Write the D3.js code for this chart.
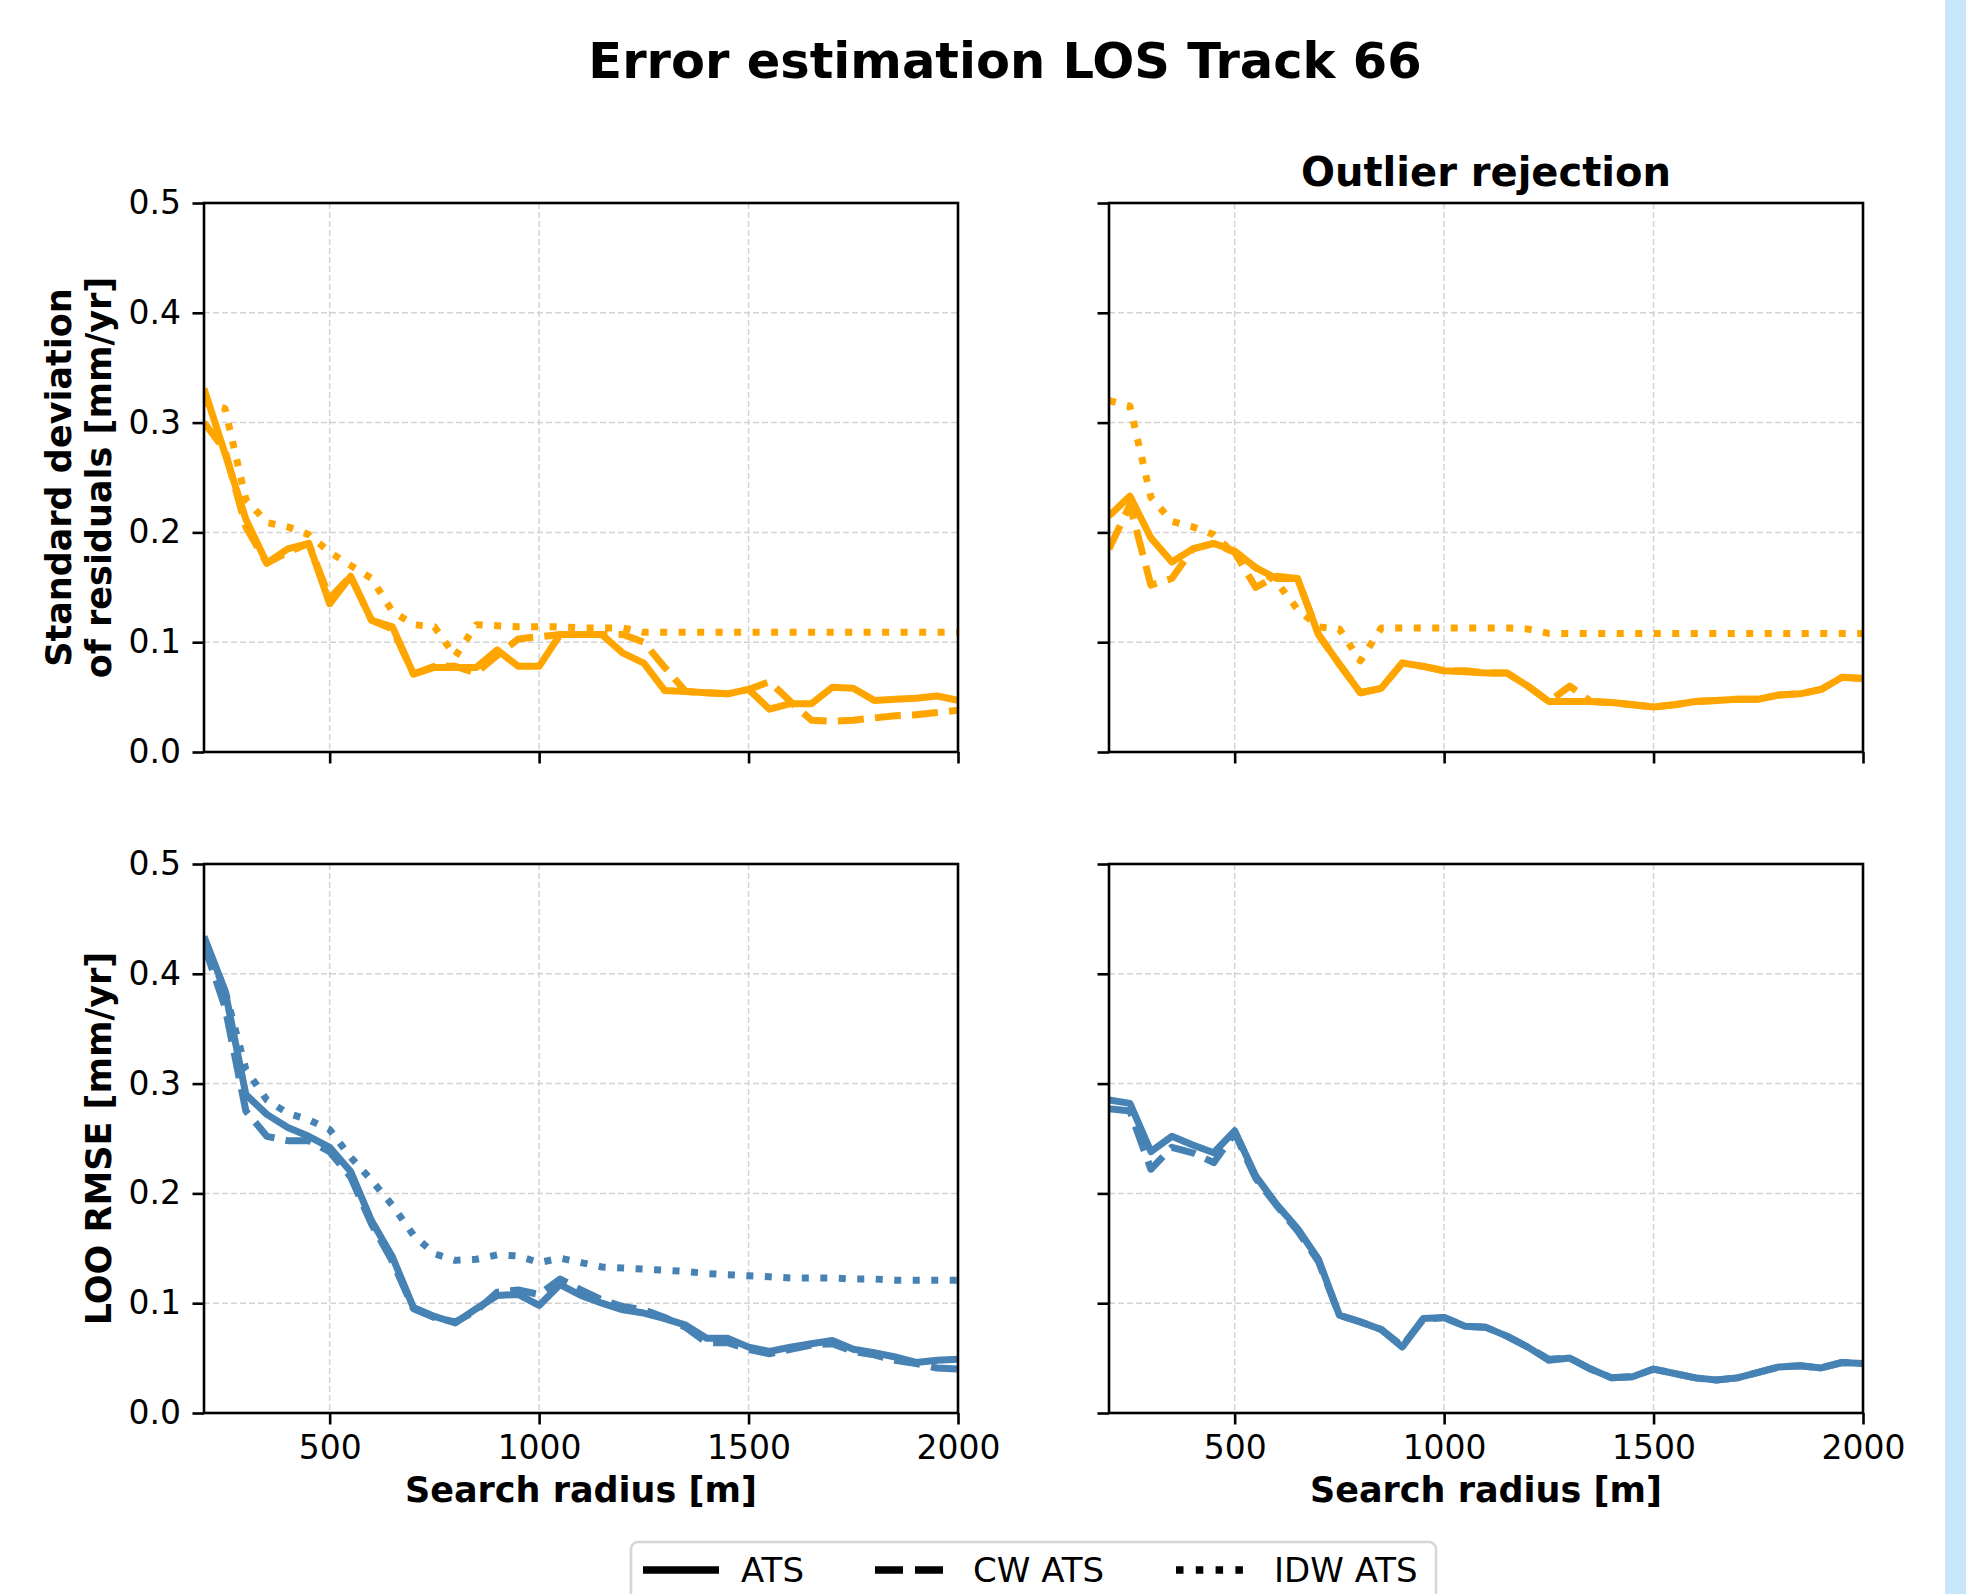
<!DOCTYPE html>
<html>
<head>
<meta charset="utf-8">
<script src="https://cdn.jsdelivr.net/npm/d3@7"></script>
<style>
  html, body { margin: 0; padding: 0; background: #fff; }
  text { font-family: "DejaVu Sans", sans-serif; fill: #000; }
</style>
</head>
<body>
<div id="chart"></div>
<script>
// search radius [m]
var radius = [200, 250, 300, 350, 400, 450, 500, 550, 600, 650, 700, 750, 800, 850, 900, 950, 1000,
  1050, 1100, 1150, 1200, 1250, 1300, 1350, 1400, 1450, 1500, 1550, 1600, 1650, 1700, 1750, 1800,
  1850, 1900, 1950, 2000];

// std of residuals, no rejection
var atsStd = [0.331, 0.272, 0.212, 0.172, 0.185, 0.190, 0.135, 0.160, 0.120, 0.114, 0.071, 0.077, 0.077,
  0.077, 0.093, 0.078, 0.078, 0.107, 0.107, 0.107, 0.090, 0.081, 0.056, 0.055, 0.054, 0.053, 0.057,
  0.039, 0.044, 0.044, 0.059, 0.058, 0.047, 0.048, 0.049, 0.051, 0.047];
var cwStd = [0.300, 0.275, 0.205, 0.172, 0.182, 0.190, 0.140, 0.160, 0.120, 0.112, 0.071, 0.078, 0.078,
  0.072, 0.088, 0.103, 0.105, 0.107, 0.107, 0.107, 0.107, 0.100, 0.077, 0.055, 0.054, 0.053, 0.057,
  0.064, 0.046, 0.029, 0.028, 0.029, 0.031, 0.033, 0.034, 0.036, 0.038];
var idwStd = [0.318, 0.313, 0.230, 0.209, 0.205, 0.198, 0.182, 0.170, 0.158, 0.128, 0.116, 0.114, 0.087,
  0.116, 0.115, 0.114, 0.114, 0.114, 0.113, 0.113, 0.113, 0.109, 0.109, 0.109, 0.109, 0.109, 0.109,
  0.109, 0.109, 0.109, 0.109, 0.109, 0.109, 0.109, 0.109, 0.109, 0.109];

// std of residuals, outlier rejection
var atsStdOr = [0.215, 0.233, 0.195, 0.173, 0.185, 0.190, 0.183, 0.168, 0.158, 0.158, 0.107, 0.080, 0.054,
  0.058, 0.081, 0.078, 0.074, 0.073, 0.072, 0.072, 0.060, 0.046, 0.046, 0.046, 0.045, 0.043, 0.041,
  0.043, 0.046, 0.047, 0.048, 0.048, 0.052, 0.053, 0.057, 0.068, 0.067];
var cwStdOr = [0.185, 0.225, 0.152, 0.158, 0.185, 0.190, 0.182, 0.150, 0.160, 0.158, 0.107, 0.080, 0.054,
  0.058, 0.081, 0.078, 0.074, 0.074, 0.072, 0.072, 0.060, 0.046, 0.060, 0.046, 0.045, 0.043, 0.041,
  0.043, 0.046, 0.047, 0.048, 0.048, 0.052, 0.053, 0.057, 0.068, 0.067];
var idwStdOr = [0.320, 0.315, 0.232, 0.210, 0.205, 0.198, 0.180, 0.168, 0.155, 0.130, 0.114, 0.112, 0.083,
  0.113, 0.113, 0.113, 0.113, 0.113, 0.113, 0.113, 0.112, 0.108, 0.108, 0.108, 0.108, 0.108, 0.108,
  0.108, 0.108, 0.108, 0.108, 0.108, 0.108, 0.108, 0.108, 0.108, 0.108];

// LOO RMSE, no rejection
var atsRmse = [0.434, 0.385, 0.290, 0.272, 0.260, 0.252, 0.242, 0.220, 0.175, 0.142, 0.096, 0.088, 0.082,
  0.095, 0.107, 0.108, 0.098, 0.117, 0.107, 0.100, 0.094, 0.091, 0.086, 0.080, 0.068, 0.068, 0.060,
  0.056, 0.060, 0.063, 0.066, 0.058, 0.055, 0.051, 0.046, 0.048, 0.049];
var cwRmse = [0.426, 0.370, 0.275, 0.252, 0.248, 0.248, 0.238, 0.215, 0.172, 0.138, 0.095, 0.087, 0.083,
  0.093, 0.110, 0.112, 0.108, 0.122, 0.112, 0.103, 0.097, 0.094, 0.087, 0.078, 0.064, 0.064, 0.058,
  0.054, 0.058, 0.062, 0.063, 0.056, 0.053, 0.048, 0.045, 0.041, 0.040];
var idwRmse = [0.430, 0.385, 0.313, 0.285, 0.273, 0.267, 0.258, 0.233, 0.212, 0.189, 0.162, 0.145, 0.139,
  0.140, 0.144, 0.143, 0.137, 0.141, 0.137, 0.133, 0.132, 0.131, 0.130, 0.129, 0.127, 0.126, 0.125,
  0.124, 0.123, 0.123, 0.123, 0.122, 0.122, 0.121, 0.121, 0.121, 0.121];

// LOO RMSE, outlier rejection (IDW ATS not visible)
var atsRmseOr = [0.285, 0.282, 0.238, 0.252, 0.244, 0.237, 0.257, 0.216, 0.190, 0.168, 0.140, 0.089, 0.083,
  0.076, 0.060, 0.086, 0.087, 0.079, 0.078, 0.070, 0.060, 0.048, 0.050, 0.040, 0.032, 0.033, 0.040,
  0.036, 0.032, 0.030, 0.032, 0.037, 0.042, 0.043, 0.041, 0.046, 0.045];
var cwRmseOr = [0.277, 0.275, 0.222, 0.242, 0.237, 0.228, 0.255, 0.214, 0.189, 0.166, 0.138, 0.089, 0.083,
  0.076, 0.061, 0.085, 0.087, 0.079, 0.078, 0.070, 0.060, 0.049, 0.050, 0.040, 0.032, 0.033, 0.040,
  0.036, 0.032, 0.030, 0.032, 0.037, 0.042, 0.043, 0.041, 0.046, 0.045];

var xTicks = [500, 1000, 1500, 2000];
var yTicks = [0.0, 0.1, 0.2, 0.3, 0.4, 0.5];
var methods = ['ATS', 'CW ATS', 'IDW ATS'];

// 画布与样式
var opt = {
  width: 1966,
  height: 1594,
  plotW: 754,
  plotH: 549,
  colLeft: [204, 1109],
  rowTop: [203, 864],
  lineW: 7,
  dash: ['none', '26,11.2', '7,11.5'],
  orange: '#ffa500',
  blue: '#4682b4',
  gridC: '#d3d3d3',
  tickFont: 33,
  labelFont: 35
};

var panels = [
  {col: 0, row: 0, color: opt.orange, series: [atsStd, cwStd, idwStd]},
  {col: 1, row: 0, color: opt.orange, series: [atsStdOr, cwStdOr, idwStdOr], title: 'Outlier rejection'},
  {col: 0, row: 1, color: opt.blue, series: [atsRmse, cwRmse, idwRmse]},
  {col: 1, row: 1, color: opt.blue, series: [atsRmseOr, cwRmseOr, null]}
];

var svg = d3.select('#chart').append('svg')
  .attr('width', opt.width)
  .attr('height', opt.height);

svg.append('rect').attr('width', opt.width).attr('height', opt.height).attr('fill', '#fff');
// 右侧浅蓝条
svg.append('rect').attr('x', 1945).attr('y', 0).attr('width', 21).attr('height', opt.height).attr('fill', '#c9e7fc');

// 总标题
svg.append('text').text('Error estimation LOS Track 66')
  .attr('x', 1005).attr('y', 78)
  .attr('text-anchor', 'middle')
  .style('font-size', '49.5px').style('font-weight', 'bold');

var x = d3.scaleLinear().domain([200, 2000]).range([0, opt.plotW]);
var y = d3.scaleLinear().domain([0, 0.5]).range([opt.plotH, 0]);

panels.forEach(function (p, pi) {
  var g = svg.append('g')
    .attr('transform', 'translate(' + opt.colLeft[p.col] + ',' + opt.rowTop[p.row] + ')');

  // 网格
  g.append('g').selectAll('line').data(xTicks).enter().append('line')
    .attr('x1', function (d) { return x(d); }).attr('x2', function (d) { return x(d); })
    .attr('y1', 0).attr('y2', opt.plotH)
    .attr('stroke', opt.gridC).attr('stroke-width', 1.5).attr('stroke-dasharray', '6,3');
  g.append('g').selectAll('line').data(yTicks).enter().append('line')
    .attr('x1', 0).attr('x2', opt.plotW)
    .attr('y1', function (d) { return y(d); }).attr('y2', function (d) { return y(d); })
    .attr('stroke', opt.gridC).attr('stroke-width', 1.5).attr('stroke-dasharray', '6,3');

  // 曲线
  g.append('clipPath').attr('id', 'clip' + pi)
    .append('rect').attr('width', opt.plotW).attr('height', opt.plotH);
  var line = d3.line()
    .x(function (d, i) { return x(radius[i]); })
    .y(function (d) { return y(d); });
  p.series.forEach(function (s, si) {
    if (!s) return;
    g.append('path').datum(s)
      .attr('d', line)
      .attr('clip-path', 'url(#clip' + pi + ')')
      .attr('fill', 'none')
      .attr('stroke', p.color)
      .attr('stroke-width', opt.lineW)
      .attr('stroke-linejoin', 'round')
      .attr('stroke-dasharray', opt.dash[si]);
  });

  // 坐标轴
  var xAxis = d3.axisBottom(x).tickValues(xTicks).tickSize(11.5).tickPadding(11.5);
  var yAxis = d3.axisLeft(y).tickValues(yTicks).tickSize(11.5).tickPadding(11.5);
  if (p.row === 0) xAxis.tickFormat('');
  else xAxis.tickFormat(d3.format('d'));
  if (p.col === 1) yAxis.tickFormat('');
  else yAxis.tickFormat(d3.format('.1f'));

  var gx = g.append('g').attr('transform', 'translate(0,' + opt.plotH + ')').call(xAxis);
  var gy = g.append('g').call(yAxis);
  [gx, gy].forEach(function (a) {
    a.select('.domain').remove();
    a.selectAll('line').attr('stroke', '#000').attr('stroke-width', 2.6);
    a.selectAll('text').attr('fill', '#000')
      .style('font-size', opt.tickFont + 'px').style('font-family', '"DejaVu Sans", sans-serif');
  });

  // 边框
  g.append('rect').attr('width', opt.plotW).attr('height', opt.plotH)
    .attr('fill', 'none').attr('stroke', '#000').attr('stroke-width', 2.6);

  if (p.title) {
    g.append('text').text(p.title)
      .attr('x', opt.plotW / 2).attr('y', -17)
      .attr('text-anchor', 'middle')
      .style('font-size', '40px').style('font-weight', 'bold');
  }
  if (p.row === 1) {
    g.append('text').text('Search radius [m]')
      .attr('x', opt.plotW / 2).attr('y', opt.plotH + 89)
      .attr('text-anchor', 'middle')
      .style('font-size', opt.labelFont + 'px').style('font-weight', 'bold');
  }
});

// 纵轴标题
var yl1 = svg.append('text')
  .attr('transform', 'translate(0,' + (opt.rowTop[0] + opt.plotH / 2) + ') rotate(-90)')
  .attr('text-anchor', 'middle')
  .style('font-size', opt.labelFont + 'px').style('font-weight', 'bold');
yl1.append('tspan').text('Standard deviation').attr('x', 0).attr('y', 71);
yl1.append('tspan').text('of residuals [mm/yr]').attr('x', 0).attr('y', 111);

svg.append('text').text('LOO RMSE [mm/yr]')
  .attr('transform', 'translate(0,' + (opt.rowTop[1] + opt.plotH / 2) + ') rotate(-90)')
  .attr('x', 0).attr('y', 111)
  .attr('text-anchor', 'middle')
  .style('font-size', opt.labelFont + 'px').style('font-weight', 'bold');

// 图例
var legend = svg.append('g');
legend.append('rect')
  .attr('x', 631).attr('y', 1542).attr('width', 805).attr('height', 90)
  .attr('rx', 7).attr('fill', '#fff').attr('stroke', '#d6d6d6').attr('stroke-width', 2.6);
var legX = [643, 875, 1176];
methods.forEach(function (m, i) {
  legend.append('line')
    .attr('x1', legX[i]).attr('x2', legX[i] + 76)
    .attr('y1', 1570).attr('y2', 1570)
    .attr('stroke', '#000').attr('stroke-width', 7.5)
    .attr('stroke-dasharray', i === 1 ? '28,12' : (i === 2 ? '7.5,12.3' : 'none'));
  legend.append('text').text(m)
    .attr('x', legX[i] + 98).attr('y', 1582)
    .style('font-size', '34px');
});
</script>
</body>
</html>
